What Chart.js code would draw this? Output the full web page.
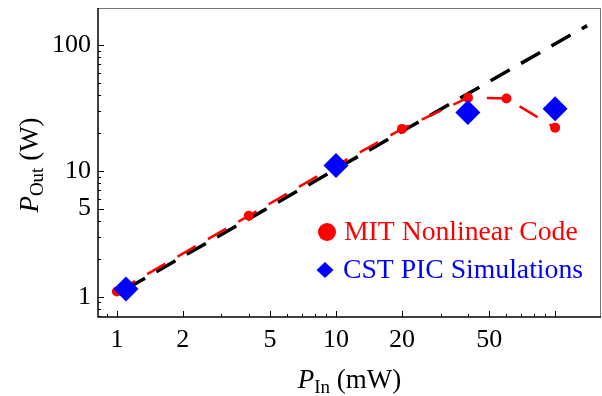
<!DOCTYPE html>
<html>
<head>
<meta charset="utf-8">
<script src="https://cdn.jsdelivr.net/npm/chart.js@4.4.1/dist/chart.umd.min.js"></script>
<style>
  html, body { margin: 0; padding: 0; background: #fff; }
  #wrap { width: 602px; height: 396px; }
</style>
</head>
<body>
<div id="wrap"><canvas id="myChart" width="602" height="396"></canvas></div>
<script>
// MIT nonlinear code (red circles, dashed line)
var mitIn = [1, 4, 10, 20, 40, 60, 100];
var mitOut = [1.1, 4.4, 11, 21.5, 38, 37.5, 22];
// CST PIC simulations (blue diamonds)
var cstIn = [1.1, 10, 40, 100];
var cstOut = [1.15, 11, 29, 31];
// linear gain reference (black dashed)
var refIn = [1.1, 140];
var refOut = [1.15, 142];

var xTickLabels = [1, 2, 5, 10, 20, 50];
var yTickLabels = [1, 5, 10, 100];
var xMinor = [0.9, 3, 4, 6, 7, 8, 9, 30, 40, 60, 70, 80, 90, 100];
var yMinor = [0.7, 0.8, 0.9, 2, 3, 4, 6, 7, 8, 9, 20, 30, 40, 50, 60, 70, 80, 90];

var serif = '"Liberation Serif", "Times New Roman", serif';

function pts(xs, ys) {
    return xs.map(function (x, i) { return { x: x, y: ys[i] }; });
}

var framePlugin = {
    id: 'frame',
    afterDraw: function (chart) {
        var c = chart.ctx, a = chart.chartArea;
        var xs = chart.scales.x, ys = chart.scales.y;
        c.save();
        // light frame top / right
        c.strokeStyle = '#777';
        c.lineWidth = 1;
        c.beginPath();
        c.moveTo(a.left, a.top + 0.5);
        c.lineTo(a.right - 0.5, a.top + 0.5);
        c.lineTo(a.right - 0.5, a.bottom);
        c.stroke();
        // axes
        c.strokeStyle = '#000';
        c.lineWidth = 1.5;
        c.beginPath();
        c.moveTo(a.left, a.top);
        c.lineTo(a.left, a.bottom);
        c.lineTo(a.right, a.bottom);
        c.stroke();
        // inward ticks
        c.lineWidth = 1;
        c.beginPath();
        xTickLabels.concat([100]).forEach(function (v) {
            var px = Math.round(xs.getPixelForValue(v)) + 0.5;
            c.moveTo(px, a.bottom); c.lineTo(px, a.bottom - 6);
        });
        xMinor.forEach(function (v) {
            var px = Math.round(xs.getPixelForValue(v)) + 0.5;
            c.moveTo(px, a.bottom); c.lineTo(px, a.bottom - 3);
        });
        yTickLabels.forEach(function (v) {
            var py = Math.round(ys.getPixelForValue(v)) + 0.5;
            c.moveTo(a.left, py); c.lineTo(a.left + 6, py);
        });
        yMinor.forEach(function (v) {
            var py = Math.round(ys.getPixelForValue(v)) + 0.5;
            c.moveTo(a.left, py); c.lineTo(a.left + 3, py);
        });
        c.stroke();

        // x axis title: P_In (mW)
        c.fillStyle = '#000';
        c.textBaseline = 'alphabetic';
        var big = '27px ' + serif, ital = 'italic 27px ' + serif, sub = '19px ' + serif;
        c.font = ital; var wP = c.measureText('P').width;
        c.font = sub; var wIn = c.measureText('In').width;
        c.font = big; var wR = c.measureText(' (mW)').width;
        var tx = (a.left + a.right) / 2 - (wP + wIn + wR) / 2, ty = 388;
        c.font = ital; c.fillText('P', tx, ty);
        c.font = sub; c.fillText('In', tx + wP, ty + 5);
        c.font = big; c.fillText(' (mW)', tx + wP + wIn, ty);

        // y axis title: P_Out (W)
        c.save();
        c.translate(38, 165);
        c.rotate(-Math.PI / 2);
        c.font = ital; wP = c.measureText('P').width;
        c.font = sub; var wOut = c.measureText('Out').width;
        c.font = big; wR = c.measureText(' (W)').width;
        tx = -(wP + wOut + wR) / 2;
        c.font = ital; c.fillText('P', tx, 0);
        c.font = sub; c.fillText('Out', tx + wP, 5);
        c.font = big; c.fillText(' (W)', tx + wP + wOut, 0);
        c.restore();

        // legend
        var lx = a.left + 229, ly = a.top + 224;
        c.fillStyle = 'rgb(255,0,0)';
        c.beginPath(); c.arc(lx, ly, 9, 0, Math.PI * 2); c.fill();
        c.font = '27.7px ' + serif;
        c.fillText('MIT Nonlinear Code', lx + 17, ly + 8);
        ly += 38;
        c.fillStyle = 'rgb(0,0,255)';
        c.beginPath();
        c.moveTo(lx - 2, ly - 8); c.lineTo(lx + 6.5, ly); c.lineTo(lx - 2, ly + 8); c.lineTo(lx - 10.5, ly);
        c.closePath(); c.fill();
        c.fillText('CST PIC Simulations', lx + 16, ly + 8);
        c.restore();
    }
};

var ctx = document.getElementById('myChart').getContext('2d');
new Chart(ctx, {
    type: 'scatter',
    data: {
        datasets: [{
            label: 'CST PIC Simulations',
            data: pts(cstIn, cstOut),
            showLine: false,
            pointStyle: 'rectRot',
            pointRadius: 12.5,
            backgroundColor: 'rgb(0,0,255)',
            borderWidth: 0
        }, {
            label: 'MIT Nonlinear Code',
            data: pts(mitIn, mitOut),
            showLine: true,
            borderColor: 'rgb(255,0,0)',
            borderWidth: 2.5,
            borderDash: [21, 14],
            backgroundColor: 'rgb(255,0,0)',
            pointRadius: 5,
            pointBorderWidth: 0
        }, {
            label: 'Linear',
            data: pts(refIn, refOut),
            showLine: true,
            borderColor: '#000',
            borderWidth: 3.5,
            borderDash: [22, 13],
            pointRadius: 0
        }]
    },
    options: {
        responsive: false,
        animation: false,
        layout: { autoPadding: false, padding: { top: 8, right: 1, left: 0, bottom: 0 } },
        plugins: { legend: { display: false }, tooltip: { enabled: false } },
        scales: {
            x: {
                type: 'logarithmic',
                min: 0.82,
                max: 162,
                grid: { display: false, drawTicks: false },
                border: { display: false },
                afterBuildTicks: function (s) { s.ticks = xTickLabels.map(function (v) { return { value: v }; }); },
                afterFit: function (s) { s.height = 79; s.paddingLeft = 0; s.paddingRight = 0; },
                ticks: {
                    autoSkip: false, maxRotation: 0, padding: 8, color: '#000',
                    font: { family: serif, size: 26 },
                    callback: function (v) { return String(v); }
                }
            },
            y: {
                type: 'logarithmic',
                min: 0.69,
                max: 196,
                grid: { display: false, drawTicks: false },
                border: { display: false },
                afterBuildTicks: function (s) { s.ticks = yTickLabels.map(function (v) { return { value: v }; }); },
                afterFit: function (s) { s.width = 98; s.paddingTop = 0; s.paddingBottom = 0; },
                ticks: {
                    autoSkip: false, padding: 7, color: '#000',
                    font: { family: serif, size: 26 },
                    callback: function (v) { return String(v); }
                }
            }
        }
    },
    plugins: [framePlugin]
});
</script>
</body>
</html>
